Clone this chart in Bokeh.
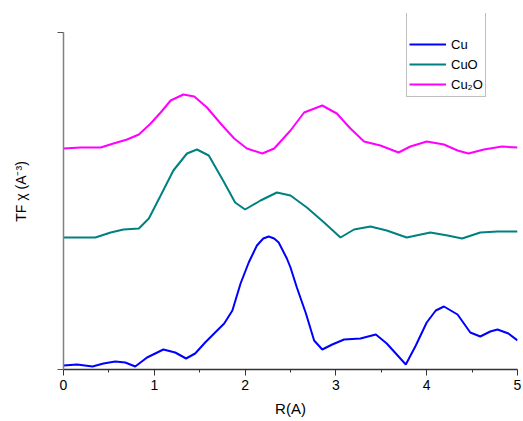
from bokeh.plotting import figure
from bokeh.models import Range1d, FixedTicker, Legend, LegendItem
from bokeh.embed import file_html
from bokeh.resources import INLINE

# Data (R in Angstrom, intensity in arbitrary units, curves vertically offset)
cu_r = [0.0, 0.15, 0.32, 0.44, 0.57, 0.68, 0.79, 0.92, 1.10, 1.23, 1.35, 1.45, 1.56, 1.67, 1.77, 1.86,
        1.95, 2.04, 2.13, 2.20, 2.26, 2.32, 2.37, 2.46, 2.50, 2.57, 2.67, 2.76, 2.85, 2.96, 3.09, 3.27,
        3.44, 3.56, 3.68, 3.77, 3.88, 4.00, 4.10, 4.19, 4.34, 4.48, 4.59, 4.70, 4.78, 4.90, 5.0]
cu_y = [4, 5, 3, 6, 8, 7, 3, 12, 20, 17, 11, 16, 27, 37, 46, 59,
        86, 107, 124, 131, 133, 131, 127, 111, 102, 82, 56, 29, 20, 25, 30, 31,
        35, 26, 14, 5, 24, 47, 59, 63, 55, 37, 33, 38, 40, 36, 29]

cuo_r = [0.0, 0.35, 0.52, 0.66, 0.83, 0.94, 1.07, 1.21, 1.36, 1.47, 1.60, 1.77, 1.89, 2.0, 2.17, 2.35,
         2.50, 2.68, 2.87, 3.05, 3.20, 3.38, 3.56, 3.78, 4.04, 4.23, 4.39, 4.59, 4.78, 5.0]
cuo_y = [132, 132, 137, 140, 141, 151, 174, 199, 216, 220, 214, 187, 167, 160, 169, 177,
         174, 162, 147, 132, 140, 143, 139, 132, 137, 134, 131, 137, 138, 138]

cu2o_r = [0.0, 0.19, 0.41, 0.55, 0.70, 0.83, 0.96, 1.07, 1.18, 1.32, 1.44, 1.58, 1.73, 1.88, 2.02, 2.19,
          2.32, 2.50, 2.65, 2.85, 3.01, 3.16, 3.31, 3.49, 3.69, 3.82, 4.0, 4.19, 4.34, 4.46, 4.63, 4.83, 5.0]
cu2o_y = [221, 222, 222, 226, 230, 235, 246, 257, 269, 275, 273, 262, 246, 231, 221, 216,
          221, 239, 257, 264, 256, 241, 228, 224, 217, 223, 228, 225, 219, 216, 220, 223, 222]

x_ticks = [0, 1, 2, 3, 4, 5]
y_axis_top = 337
series_labels = ["Cu", "CuO", "Cu\u2082O"]
series_colors = ["#0000ff", "#008080", "#ff00ff"]

p = figure(width=523, height=421, output_backend="svg", toolbar_location=None,
           x_range=Range1d(0, 5), y_range=Range1d(0, 356),
           min_border_left=63, min_border_right=6, min_border_top=13, min_border_bottom=52)
p.outline_line_color = None
p.xgrid.visible = False
p.ygrid.visible = False
p.background_fill_color = "white"
p.border_fill_color = "white"

r1 = p.line(cu_r, cu_y, line_color=series_colors[0], line_width=2)
r2 = p.line(cuo_r, cuo_y, line_color=series_colors[1], line_width=2)
r3 = p.line(cu2o_r, cu2o_y, line_color=series_colors[2], line_width=2)
# invisible renderer used only for the blank top row of the legend box
r0 = p.line([], [], line_alpha=0)

font = "Liberation Sans"

# x axis
xa = p.xaxis[0]
xa.ticker = FixedTicker(ticks=x_ticks, minor_ticks=[0.5, 1.5, 2.5, 3.5, 4.5])
xa.axis_label = "R(A)"
xa.axis_label_text_font = font
xa.axis_label_text_font_style = "normal"
xa.axis_label_text_font_size = "15px"
xa.axis_label_text_color = "black"
xa.axis_label_standoff = 7
xa.major_label_text_font = font
xa.major_label_text_font_size = "14px"
xa.major_label_text_color = "black"
xa.major_label_standoff = 4
xa.axis_line_color = "#333333"
xa.major_tick_line_color = "#333333"
xa.minor_tick_line_color = "#333333"
xa.major_tick_in = 0
xa.major_tick_out = 6
xa.minor_tick_in = 0
xa.minor_tick_out = 3
xa.axis_line_width = 1.5

# y axis
ya = p.yaxis[0]
ya.bounds = (0, y_axis_top)
ya.ticker = FixedTicker(ticks=[0, y_axis_top], minor_ticks=[])
ya.major_label_text_font_size = "0px"
ya.major_label_text_alpha = 0
ya.axis_label = "TF \u03c7 (A\u207b\u00b3)"
ya.axis_label_text_font = font
ya.axis_label_text_font_style = "normal"
ya.axis_label_text_font_size = "14px"
ya.axis_label_text_color = "black"
ya.axis_label_standoff = 29
ya.axis_line_color = "#808080"
ya.axis_line_width = 1.5
ya.major_tick_line_color = "#555555"
ya.major_tick_in = 0
ya.major_tick_out = 6
ya.minor_tick_line_color = None

legend = Legend(items=[LegendItem(label=" ", renderers=[r0]),
                       LegendItem(label=series_labels[0], renderers=[r1]),
                       LegendItem(label=series_labels[1], renderers=[r2]),
                       LegendItem(label=series_labels[2], renderers=[r3])],
                location=(343, 272), orientation="vertical",
                padding=2, spacing=0, margin=0,
                glyph_width=37, glyph_height=20, label_height=20, label_standoff=5,
                label_text_font=font, label_text_font_size="13px", label_text_color="black",
                border_line_color="#808080", border_line_width=1,
                background_fill_color="white", background_fill_alpha=1)
p.add_layout(legend, "center")

open("out.html", "w").write(file_html(p, INLINE))
